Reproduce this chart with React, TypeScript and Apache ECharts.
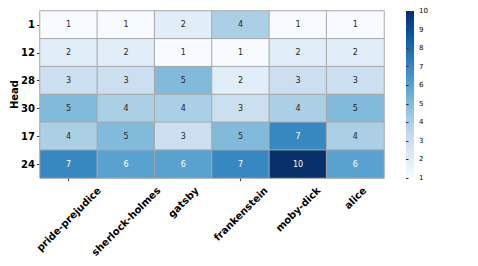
import React, { useEffect, useRef } from "react";
import * as echarts from "echarts";

const books = ["pride-prejudice", "sherlock-holmes", "gatsby", "frankenstein", "moby-dick", "alice"];
const heads = ["1", "12", "28", "30", "17", "24"];
const row1 = [1, 1, 2, 4, 1, 1];
const row12 = [2, 2, 1, 1, 2, 2];
const row28 = [3, 3, 5, 2, 3, 3];
const row30 = [5, 4, 4, 3, 4, 5];
const row17 = [4, 5, 3, 5, 7, 4];
const row24 = [7, 6, 6, 7, 10, 6];
const rows = [row1, row12, row28, row30, row17, row24];

const blues = ["#f7fbff", "#deebf7", "#c6dbef", "#9ecae1", "#6baed6", "#4292c6", "#2171b5", "#08519c", "#08306b"];

export default function App() {
  const ref = useRef<HTMLDivElement>(null);
  useEffect(() => {
    const chart = echarts.init(ref.current!, null, { renderer: "svg" });
    const font = "DejaVu Sans";
    const xFontSize = 10;
    const data: any[] = [];
    rows.forEach((r, yi) =>
      r.forEach((v, xi) =>
        data.push({
          value: [xi, yi, v],
          label: { color: v >= 6 ? "#ffffff" : "#262626" },
        })
      )
    );
    const gLeft = 40, gTop = 11, gW = 344, gH = 167;
    const cbLeft = 406, cbW = 8;
    const colorbar = {
      type: "rect",
      id: "colorbar",
      shape: { x: cbLeft, y: gTop, width: cbW, height: gH },
      style: {
        fill: new echarts.graphic.LinearGradient(
          0, 1, 0, 0,
          blues.map((c, i) => ({ offset: i / (blues.length - 1), color: c }))
        ),
      },
      z: -1,
    };
    chart.setOption({
      animation: false,
      textStyle: { fontFamily: font },
      grid: [
        { left: gLeft, top: gTop, width: gW, height: gH, outerBoundsMode: "none", containLabel: false },
        { left: cbLeft, top: gTop, width: cbW, height: gH, outerBoundsMode: "none", containLabel: false },
      ],
      xAxis: [
        {
          type: "category",
          data: books,
          gridIndex: 0,
          axisLine: { show: false },
          axisTick: { show: true, alignWithLabel: true, length: 3, lineStyle: { color: "#333" } },
          axisLabel: { show: false },
          splitLine: { show: false },
        },
        {
          type: "value",
          gridIndex: 1,
          show: false,
          min: 0,
          max: 1,
        },
      ],
      yAxis: [
        {
          type: "category",
          data: heads,
          inverse: true,
          gridIndex: 0,
          name: "Head",
          nameLocation: "middle",
          nameGap: 21,
          nameMoveOverlap: false,
          nameTextStyle: { fontWeight: "bold", fontSize: 10, color: "#000", fontFamily: font },
          axisLine: { show: false },
          axisTick: { show: true, alignWithLabel: true, length: 3, lineStyle: { color: "#333" } },
          axisLabel: { fontWeight: "bold", fontSize: 10, color: "#000", margin: 5, fontFamily: font },
        },
        {
          type: "value",
          gridIndex: 1,
          position: "right",
          min: 1,
          max: 10,
          interval: 1,
          axisLine: { show: false },
          axisTick: { show: true, length: 2.5, lineStyle: { color: "#333" } },
          axisLabel: { fontSize: 7, color: "#000", margin: 5, fontFamily: font },
          splitLine: { show: false },
        },
      ],
      visualMap: {
        show: false,
        min: 1,
        max: 10,
        dimension: 2,
        seriesIndex: 0,
        inRange: { color: blues },
      },
      graphic: [colorbar],
      series: [
        {
          type: "heatmap",
          xAxisIndex: 0,
          yAxisIndex: 0,
          data,
          label: { show: true, fontSize: 8, fontFamily: font },
          itemStyle: { borderColor: "#a8a8a8", borderWidth: 1 },
        },
        {
          type: "scatter",
          xAxisIndex: 1,
          yAxisIndex: 1,
          data: [],
        },
      ],
    });

    // x tick labels: rotated 45°, box centred under each tick, all tops at the same height
    const canvas = document.createElement("canvas");
    const ctx = canvas.getContext("2d")!;
    ctx.font = `bold ${xFontSize}px "${font}"`;
    const labelTop = gTop + gH + 6.5;
    const h = xFontSize * 1.17;
    const labels = books.map((b, i) => {
      const px = chart.convertToPixel({ xAxisIndex: 0 } as any, i) as number;
      const L = ctx.measureText(b).width;
      return {
        type: "text",
        x: px,
        y: labelTop + (L + h) * Math.SQRT1_2 / 2,
        rotation: Math.PI / 4,
        style: {
          text: b,
          fontFamily: font,
          fontWeight: "bold",
          fontSize: xFontSize,
          fill: "#000",
          align: "center",
          verticalAlign: "middle",
        },
      };
    });
    chart.setOption({ graphic: [colorbar, ...labels] });
    return () => chart.dispose();
  }, []);
  return <div ref={ref} style={{ width: 478, height: 266, position: "absolute", left: 0, top: 0 }} />;
}
